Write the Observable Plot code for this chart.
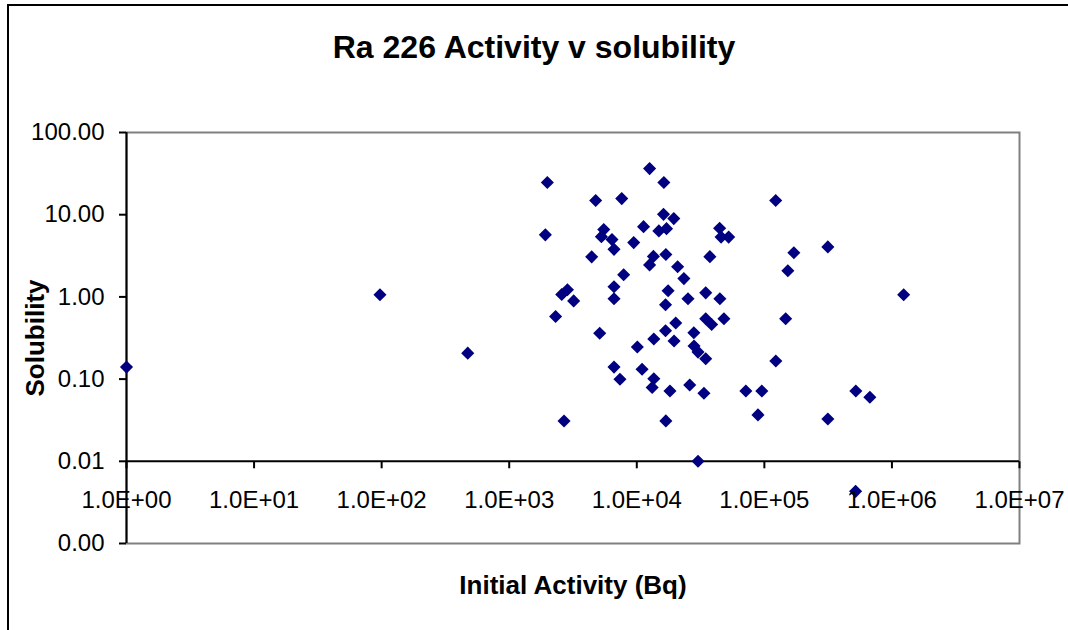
<!DOCTYPE html>
<html>
<head>
<meta charset="utf-8">
<script src="https://cdn.jsdelivr.net/npm/d3@7"></script>
<script src="https://cdn.jsdelivr.net/npm/@observablehq/plot@0.6"></script>
<style>
  html, body { margin: 0; padding: 0; background: #fff; overflow: hidden; }
  #wrap { position: relative; width: 1068px; height: 630px; font-family: "Liberation Sans", Arial, sans-serif; }
  #border { position: absolute; left: 7px; top: 4px; width: 1200px; height: 800px; border-left: 2px solid #000; border-top: 2px solid #000; box-sizing: border-box; }
  #title { position: absolute; left: 0; top: 31px; width: 1068px; text-align: center; font-size: 32px; font-weight: bold; line-height: 32px; color: #000; }
  #chart { position: absolute; left: 0; top: 0; }
</style>
</head>
<body>
<div id="wrap">
  <div id="border"></div>
  <div id="chart"></div>
  <div id="title">Ra 226 Activity v solubility</div>
</div>
<script>
const activity = [1, 97, 473, 1990, 1920, 2310, 2580, 2860, 3200, 2690,
  4430, 4760, 5120, 5280, 5510, 6390, 6630, 6630, 6630, 6630,
  7380, 7620, 7890, 9460, 10100, 11000, 11300, 12600, 12600, 13200,
  13500, 13600, 13600, 14900, 16300, 16200, 16900, 17100, 17600, 16800,
  16800, 16900, 18200, 19500, 19600, 20200, 20900, 23400, 25200, 26000,
  28000, 28100, 30200, 30200, 33600, 34700, 34700, 34700, 37400, 38600,
  44600, 45800, 52500, 44800, 48200, 71600, 89100, 95500, 122700, 123000,
  146900, 152800, 170300, 314600, 314600, 521200, 671400, 1236000, 519000];
const solubility = [0.14, 1.06, 0.207, 24.6, 5.69, 0.578, 1.07, 1.22, 0.894, 0.0309,
  3.07, 14.9, 0.362, 5.41, 6.59, 4.98, 3.79, 1.33, 0.95, 0.14,
  0.0997, 15.7, 1.86, 4.58, 0.246, 0.132, 7.16, 36.4, 2.45, 0.079,
  3.11, 0.308, 0.101, 6.35, 24.6, 10.1, 3.28, 6.77, 1.19, 0.803,
  0.388, 0.031, 0.0716, 8.96, 0.291, 0.482, 2.33, 1.67, 0.95, 0.0848,
  0.366, 0.253, 0.213, 0.01, 0.0673, 1.12, 0.542, 0.177, 3.09, 0.462,
  6.83, 5.34, 5.34, 0.95, 0.542, 0.0716, 0.0367, 0.0716, 14.9, 0.166,
  0.542, 2.08, 3.45, 4.06, 0.0327, 0.0717, 0.0602, 1.06, 0.00431];
const xTicks = [1, 10, 100, 1000, 10000, 100000, 1000000, 10000000];
const yTicks = [0.001, 0.01, 0.1, 1, 10, 100];
const xTitle = "Initial Activity (Bq)";
const yTitle = "Solubility";

const data = activity.map((a, i) => ({activity: a, solubility: solubility[i]}));
const font = "Liberation Sans, Arial, sans-serif";
const tickDown = { draw(ctx) { ctx.moveTo(0, 0); ctx.lineTo(0, 7); } };
const fmtX = d => "1.0E+" + String(Math.round(Math.log10(d))).padStart(2, "0");

const chart = Plot.plot({
  width: 1068,
  height: 630,
  marginLeft: 126,
  marginRight: 49,
  marginTop: 132,
  marginBottom: 87,
  style: { fontFamily: font, fontSize: "24px", background: "transparent", overflow: "visible" },
  x: { type: "log", domain: [1, 1e7], axis: null },
  y: { type: "log", domain: [0.001, 100], axis: null },
  marks: [
    Plot.frame({ stroke: "#808080", strokeWidth: 2 }),
    Plot.ruleY([0.01], { stroke: "#000", strokeWidth: 2 }),
    Plot.ruleX([1], { stroke: "#000", strokeWidth: 2 }),
    Plot.axisY(yTicks, {
      anchor: "left", tickSize: 7, tickPadding: 15, strokeWidth: 2,
      tickFormat: d3.format(".2f"), fontSize: 24, label: null, fill: "#000", stroke: "#000"
    }),
    Plot.dot(xTicks, { x: d => d, y: () => 0.01, symbol: tickDown, stroke: "#000", strokeWidth: 2, fill: "none" }),
    Plot.dot(data, { x: "activity", y: "solubility", symbol: "diamond2", r: 5.9, fill: "#000080", stroke: "none" }),
    Plot.text(xTicks, { x: d => d, y: () => 0.01, text: fmtX, dy: 39, fontSize: 24, fill: "#000" }),
    Plot.text([xTitle], { frameAnchor: "bottom", dy: 42, lineAnchor: "middle", textAnchor: "middle", fontSize: 26, fontWeight: "bold", fill: "#000" }),
    Plot.text([yTitle], { frameAnchor: "left", dx: -91, rotate: -90, textAnchor: "middle", lineAnchor: "middle", fontSize: 26, fontWeight: "bold", fill: "#000" })
  ]
});
document.getElementById("chart").appendChild(chart);
</script>
</body>
</html>
